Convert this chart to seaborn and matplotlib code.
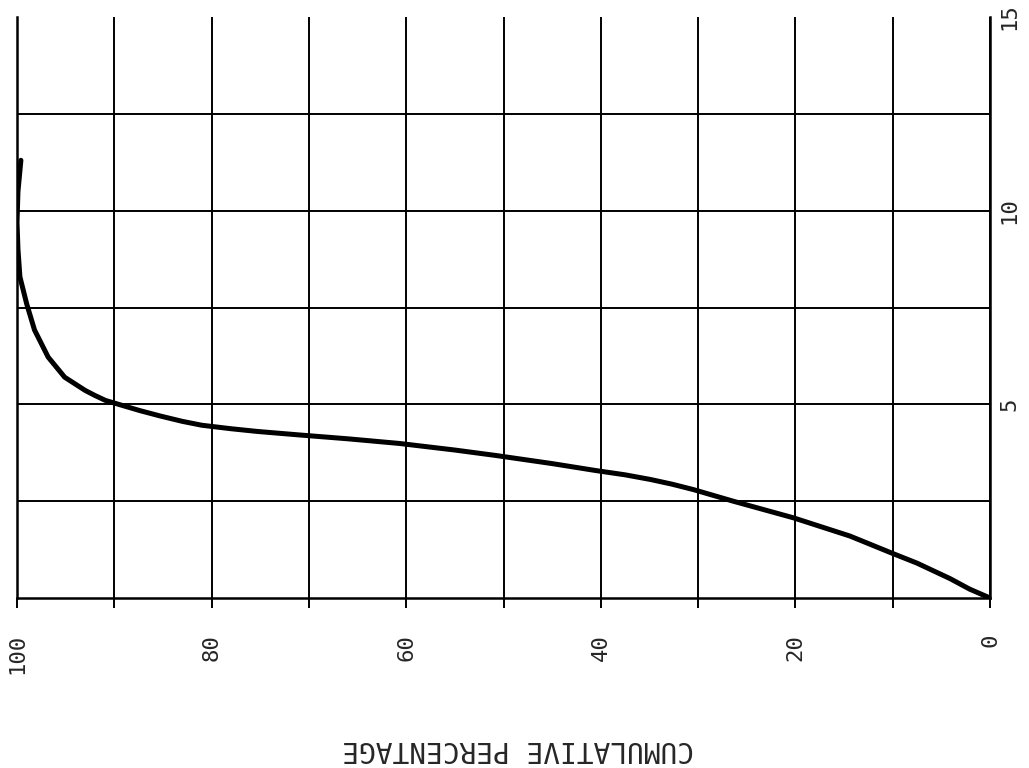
import pandas as pd
import seaborn as sns
import matplotlib.pyplot as plt

# cumulative percentage (horizontal, reversed) vs. value (vertical, right axis)
cum_pct = [0, 2.1, 4.1, 7.5, 10.2, 14.4, 20.2, 26.4, 30.5, 32.7, 34.9, 37.5, 40.5,
           45, 50.8, 55, 60.7, 66, 71, 75.3, 78, 81, 83, 85.3, 87.4, 90.9, 92.0,
           93.0, 95.1, 96.8, 98.2, 99.0, 99.7, 99.9, 100, 99.9, 99.6]
value = [0, 0.23, 0.5, 0.9, 1.17, 1.6, 2.07, 2.5, 2.8, 2.94, 3.06, 3.18, 3.29,
         3.47, 3.68, 3.82, 3.99, 4.11, 4.21, 4.3, 4.37, 4.46, 4.56, 4.7, 4.84,
         5.1, 5.23, 5.36, 5.7, 6.22, 6.92, 7.59, 8.29, 9.0, 9.7, 10.5, 11.3]

pct_ticks = [0, 10, 20, 30, 40, 50, 60, 70, 80, 90, 100]
pct_labels = ["0", "", "20", "", "40", "", "60", "", "80", "", "100"]
val_major = [5, 10, 15]
val_minor = [2.5, 7.5, 12.5]

sns.set_theme(style="white")
plt.rcParams["font.family"] = ["DejaVu Sans Mono", "DejaVu Sans"]

df = pd.DataFrame({"pct": cum_pct, "value": value})

fig = plt.figure(figsize=(10.29, 7.68), dpi=100)
ax = fig.add_axes([17 / 1029, 170 / 768, 973 / 1029, 581 / 768])

sns.lineplot(data=df, x="pct", y="value", sort=False, estimator=None,
             color="black", linewidth=3.6, ax=ax,
             solid_joinstyle="round", solid_capstyle="round")

ax.set_xlim(100, 0)
ax.set_ylim(0, 15)

# spines: no top border
for side in ["left", "right", "bottom"]:
    ax.spines[side].set_visible(True)
    ax.spines[side].set_color("black")
    ax.spines[side].set_linewidth(1.8)
ax.spines["top"].set_visible(False)

# horizontal axis ticks
ax.set_xticks(pct_ticks)
ax.set_xticklabels(pct_labels, rotation=90, fontsize=16)
ax.tick_params(axis="x", direction="out", length=7, width=1.4, color="black",
               pad=19, bottom=True)

# vertical axis on the right
ax.yaxis.tick_right()
ax.set_yticks(val_major)
ax.set_yticks(val_minor, minor=True)
ax.set_yticklabels(["5", "10", "15"], rotation=90, fontsize=16, va="center")
ax.tick_params(axis="y", which="both", length=0, pad=7, right=True, left=False)

# grid
ax.grid(True, which="major", color="black", linewidth=1.4)
ax.grid(True, which="minor", axis="y", color="black", linewidth=1.4)
ax.yaxis.get_gridlines()[-1].set_visible(False)
ax.set_ylabel("")

ax.set_xlabel("CUMULATIVE PERCENTAGE", fontsize=20, rotation=180,
              ha="center", va="center")
ax.xaxis.set_label_coords(0.515, -0.26)

fig.savefig("out.png", dpi=100, facecolor="white")
